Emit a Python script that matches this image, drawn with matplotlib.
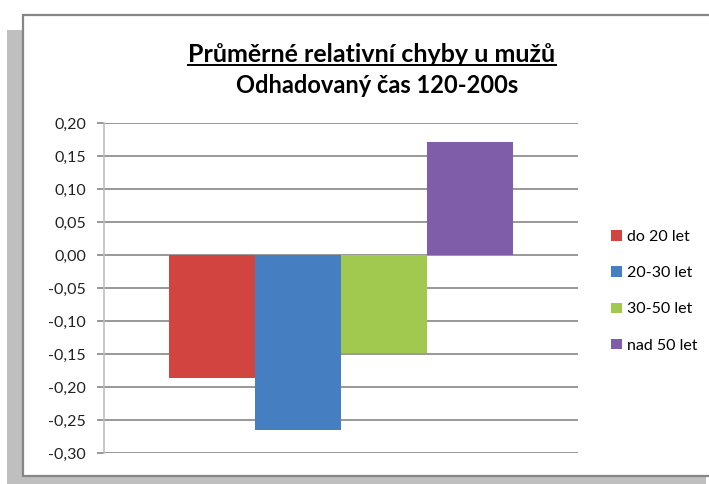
import matplotlib.pyplot as plt
from matplotlib.patches import Rectangle
from matplotlib.lines import Line2D
from matplotlib.ticker import FuncFormatter, MultipleLocator

# data
groups = ['do 20 let', '20-30 let', '30-50 let', 'nad 50 let']
values = [-0.186, -0.265, -0.148, 0.171]
colors = ['#D24440', '#467FC1', '#A2C94F', '#805DA8']
title_1 = 'Průměrné relativní chyby u mužů'
title_2 = 'Odhadovaný čas 120-200s'

plt.rcParams['font.family'] = ['Lato', 'DejaVu Sans']

W, H = 709, 484
fig = plt.figure(figsize=(W / 100, H / 100), dpi=100)

# Excel style chart frame with shadow
fig.patches.append(Rectangle((7 / W, 0), (706 - 7) / W, 1 - 30 / H,
                             transform=fig.transFigure, facecolor='#BFBFBF',
                             edgecolor='none', zorder=-3))
fig.patches.append(Rectangle((23.5 / W, 1 - 476 / H), 1.2, (476 - 15) / H,
                             transform=fig.transFigure, facecolor='white',
                             edgecolor='#868686', linewidth=1.6, zorder=-2))

ax = fig.add_axes([104 / W, 1 - 453 / H, (578 - 104) / W, (453 - 123) / H])
ax.set_facecolor('none')

offsets = [-1.5, -0.5, 0.5, 1.5]
for off, v, c, g in zip(offsets, values, colors, groups):
    ax.bar(off, v, width=1.0, color=c, edgecolor='none', label=g, zorder=3)

ax.set_xlim(-2.75, 2.75)
ax.set_ylim(-0.30, 0.20)
ax.yaxis.set_major_locator(MultipleLocator(0.05))
ax.yaxis.set_major_formatter(FuncFormatter(lambda v, p: f'{v:.2f}'.replace('.', ',')))
ax.set_xticks([])
ax.grid(axis='y', color='#868686', linewidth=1.2, zorder=0)
ax.set_axisbelow(True)
for s in ['top', 'right', 'bottom']:
    ax.spines[s].set_visible(False)
ax.spines['left'].set_color('#BFBFBF')
ax.spines['left'].set_linewidth(1.2)
ax.tick_params(axis='y', length=5, width=1.2, color='#868686', pad=8,
               labelsize=11.5, labelcolor='#222222')

leg = ax.legend(loc='upper left', bbox_to_anchor=(605 / W, 1 - 224 / H),
                bbox_transform=fig.transFigure, frameon=False,
                handlelength=0.65, handleheight=0.65, handletextpad=0.3,
                labelspacing=1.38, fontsize=11.5, borderaxespad=0)

fig.text(372 / W, 1 - 62 / H, title_1, ha='center', va='baseline',
         fontsize=18, fontweight='bold', color='black')
fig.text(377 / W, 1 - 93 / H, title_2, ha='center', va='baseline',
         fontsize=17, fontweight='bold', color='black')

# underline for the first title line
fig.canvas.draw()
t1 = fig.texts[0]
bb = t1.get_window_extent()
yline = (bb.y0 + 1) / H
fig.lines.append(Line2D([bb.x0 / W, bb.x1 / W], [yline, yline],
                        transform=fig.transFigure, color='black', linewidth=1.4))

fig.savefig('out.png', dpi=100)
